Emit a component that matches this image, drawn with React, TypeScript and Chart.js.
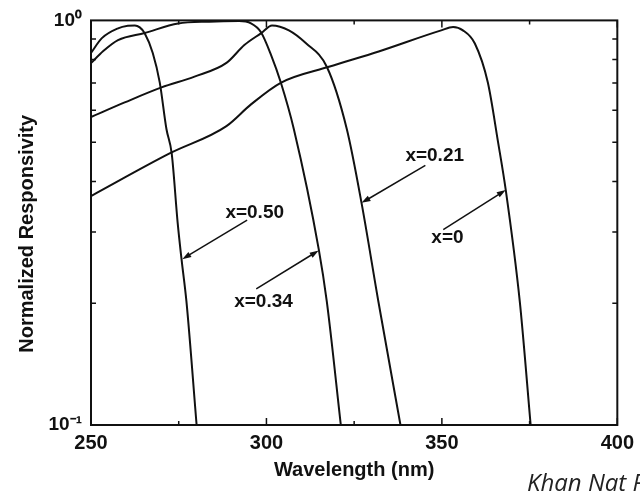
import React, { useEffect, useRef } from 'react';
import { Chart, registerables } from 'chart.js';

Chart.register(...registerables);

// ---- data ----
const seriesNames = ['x=0.50', 'x=0.34', 'x=0.21', 'x=0'];

const wl050 = [250, 253.1, 257.7, 260.5, 262.5, 263.9, 265.3, 267.6, 269.6, 271.5, 273.0, 274.7, 275.8, 277.2, 280.1];
const r050 = [0.831, 0.904, 0.956, 0.970, 0.972, 0.961, 0.930, 0.831, 0.702, 0.539, 0.469, 0.316, 0.257, 0.202, 0.1];

const wl034 = [250, 253.5, 257.7, 265.3, 274.8, 283.7, 292.2, 295.6, 298.4, 301.3, 304.1, 307.8, 314.9, 317.2, 321.2];
const r034 = [0.784, 0.84, 0.894, 0.931, 0.982, 0.993, 0.996, 0.983, 0.936, 0.822, 0.702, 0.539, 0.272, 0.202, 0.1];

const wl021 = [250, 259.6, 270.1, 279.5, 288.6, 293.7, 298.5, 301.6, 306.4, 311.2, 317.2, 322.9, 327.1, 331.9, 338.2];
const r021 = [0.577, 0.627, 0.683, 0.726, 0.785, 0.869, 0.930, 0.972, 0.945, 0.879, 0.768, 0.539, 0.354, 0.202, 0.1];

const wl000 = [250, 272.4, 288.6, 295.6, 304.2, 317.8, 332.0, 349.8, 353.2, 356.0, 359.4, 363.1, 366.0, 368.2, 372.2, 375.3];
const r000 = [0.368, 0.469, 0.548, 0.620, 0.702, 0.768, 0.838, 0.945, 0.963, 0.945, 0.877, 0.702, 0.501, 0.381, 0.202, 0.1];

const xTickLabels = [250, 300, 350, 400];
const xTickMarks = [250, 275, 300, 325, 350, 375, 400];
const yTickMarks = [0.2, 0.3, 0.4, 0.5, 0.6, 0.7, 0.8, 0.9];

// label text, label anchor (wavelength, response), arrow tail and head in data units
const labelText = ['x=0.50', 'x=0.34', 'x=0.21', 'x=0'];
const labelWl = [288.3, 290.8, 339.6, 347.0];
const labelR = [0.334, 0.202, 0.463, 0.291];
const arrowFromWl = [294.5, 297.1, 345.3, 350.4];
const arrowFromR = [0.321, 0.217, 0.438, 0.304];
const arrowToWl = [276.0, 314.9, 327.1, 368.2];
const arrowToR = [0.257, 0.270, 0.354, 0.381];

const caption = 'Khan Nat P';

const FONT = '"Liberation Sans", Arial, Helvetica, sans-serif';
const INK = '#111111';

function zip(xs: number[], ys: number[]) {
  return xs.map((x, i) => ({ x, y: ys[i] }));
}

const decorPlugin = {
  id: 'decor',
  afterDatasetsDraw(chart: any) {
    const { ctx, chartArea: a, scales } = chart;
    const xs = scales.x;
    const ys = scales.y;
    ctx.save();
    ctx.strokeStyle = INK;
    ctx.lineWidth = 2;
    ctx.strokeRect(a.left, a.top, a.right - a.left, a.bottom - a.top);

    ctx.lineWidth = 1.5;
    ctx.beginPath();
    for (const v of xTickMarks) {
      const px = xs.getPixelForValue(v);
      const len = v % 50 === 0 ? 7 : 4;
      ctx.moveTo(px, a.bottom);
      ctx.lineTo(px, a.bottom - len);
      ctx.moveTo(px, a.top);
      ctx.lineTo(px, a.top + len);
    }
    for (const v of yTickMarks) {
      const py = ys.getPixelForValue(v);
      ctx.moveTo(a.left, py);
      ctx.lineTo(a.left + 5, py);
      ctx.moveTo(a.right, py);
      ctx.lineTo(a.right - 5, py);
    }
    ctx.stroke();

    // annotations
    ctx.fillStyle = INK;
    ctx.font = `bold 19px ${FONT}`;
    ctx.textAlign = 'left';
    ctx.textBaseline = 'middle';
    for (let i = 0; i < labelText.length; i++) {
      ctx.fillText(labelText[i], xs.getPixelForValue(labelWl[i]), ys.getPixelForValue(labelR[i]));
      const x0 = xs.getPixelForValue(arrowFromWl[i]);
      const y0 = ys.getPixelForValue(arrowFromR[i]);
      const x1 = xs.getPixelForValue(arrowToWl[i]);
      const y1 = ys.getPixelForValue(arrowToR[i]);
      const ang = Math.atan2(y1 - y0, x1 - x0);
      const L = 9;
      const W = 3;
      ctx.lineWidth = 1.5;
      ctx.beginPath();
      ctx.moveTo(x0, y0);
      ctx.lineTo(x1 - Math.cos(ang) * L * 0.8, y1 - Math.sin(ang) * L * 0.8);
      ctx.stroke();
      ctx.beginPath();
      ctx.moveTo(x1, y1);
      ctx.lineTo(x1 - Math.cos(ang) * L - Math.sin(ang) * W, y1 - Math.sin(ang) * L + Math.cos(ang) * W);
      ctx.lineTo(x1 - Math.cos(ang) * L + Math.sin(ang) * W, y1 - Math.sin(ang) * L - Math.cos(ang) * W);
      ctx.closePath();
      ctx.fill();
    }

    // caption
    ctx.fillStyle = '#222';
    ctx.textBaseline = 'alphabetic';
    ctx.font = 'italic 24px "Open Sans", "Noto Sans", sans-serif';
    ctx.fillText(caption, 527, 491);
    ctx.restore();
  },
};

export default function App() {
  const ref = useRef<HTMLCanvasElement | null>(null);

  useEffect(() => {
    if (!ref.current) return;
    const mk = (label: string, xs: number[], ys: number[]) => ({
      label,
      data: zip(xs, ys),
      borderColor: INK,
      borderWidth: 2,
      pointRadius: 0,
      fill: false,
      cubicInterpolationMode: 'monotone' as const,
    });
    const chart = new Chart(ref.current, {
      type: 'line',
      data: {
        datasets: [
          mk(seriesNames[0], wl050, r050),
          mk(seriesNames[1], wl034, r034),
          mk(seriesNames[2], wl021, r021),
          mk(seriesNames[3], wl000, r000),
        ],
      },
      options: {
        animation: false,
        responsive: false,
        devicePixelRatio: 1,
        layout: { padding: { left: 0, right: 20, top: 15, bottom: 0 } },
        plugins: { legend: { display: false }, tooltip: { enabled: false } },
        scales: {
          x: {
            type: 'linear',
            min: 250,
            max: 400,
            afterBuildTicks: (s: any) => {
              s.ticks = xTickLabels.map((v) => ({ value: v }));
            },
            afterFit: (s: any) => {
              s.height = 67;
            },
            grid: { display: false, drawTicks: false },
            border: { display: false },
            ticks: {
              padding: 6,
              color: INK,
              font: { family: FONT, size: 20, weight: 'bold' },
              maxRotation: 0,
              autoSkip: false,
            },
            title: {
              display: true,
              text: 'Wavelength (nm)',
              color: INK,
              font: { family: FONT, size: 20, weight: 'bold' },
              padding: { top: 0, bottom: 10 },
            },
          },
          y: {
            type: 'logarithmic',
            min: 0.1,
            max: 1,
            afterFit: (s: any) => {
              s.width = 91;
            },
            grid: { display: false, drawTicks: false },
            border: { display: false },
            ticks: {
              padding: 9,
              color: INK,
              autoSkip: false,
              font: { family: FONT, size: 19, weight: 'bold' },
              callback: (v: any) => {
                const n = Number(v);
                if (Math.abs(n - 1) < 1e-9) return '10⁰';
                if (Math.abs(n - 0.1) < 1e-9) return '10⁻¹';
                return '';
              },
            },
            title: {
              display: true,
              text: 'Normalized Responsivity    ',
              color: INK,
              font: { family: FONT, size: 20, weight: 'bold' },
              padding: { top: 15, bottom: 0 },
            },
          },
        },
      },
      plugins: [decorPlugin],
    });
    return () => chart.destroy();
  }, []);

  return (
    <div style={{ position: 'absolute', left: 0, top: 0, width: 640, height: 492, background: '#fff' }}>
      <canvas ref={ref} width={640} height={492} style={{ display: 'block', width: 640, height: 492 }} />
    </div>
  );
}
